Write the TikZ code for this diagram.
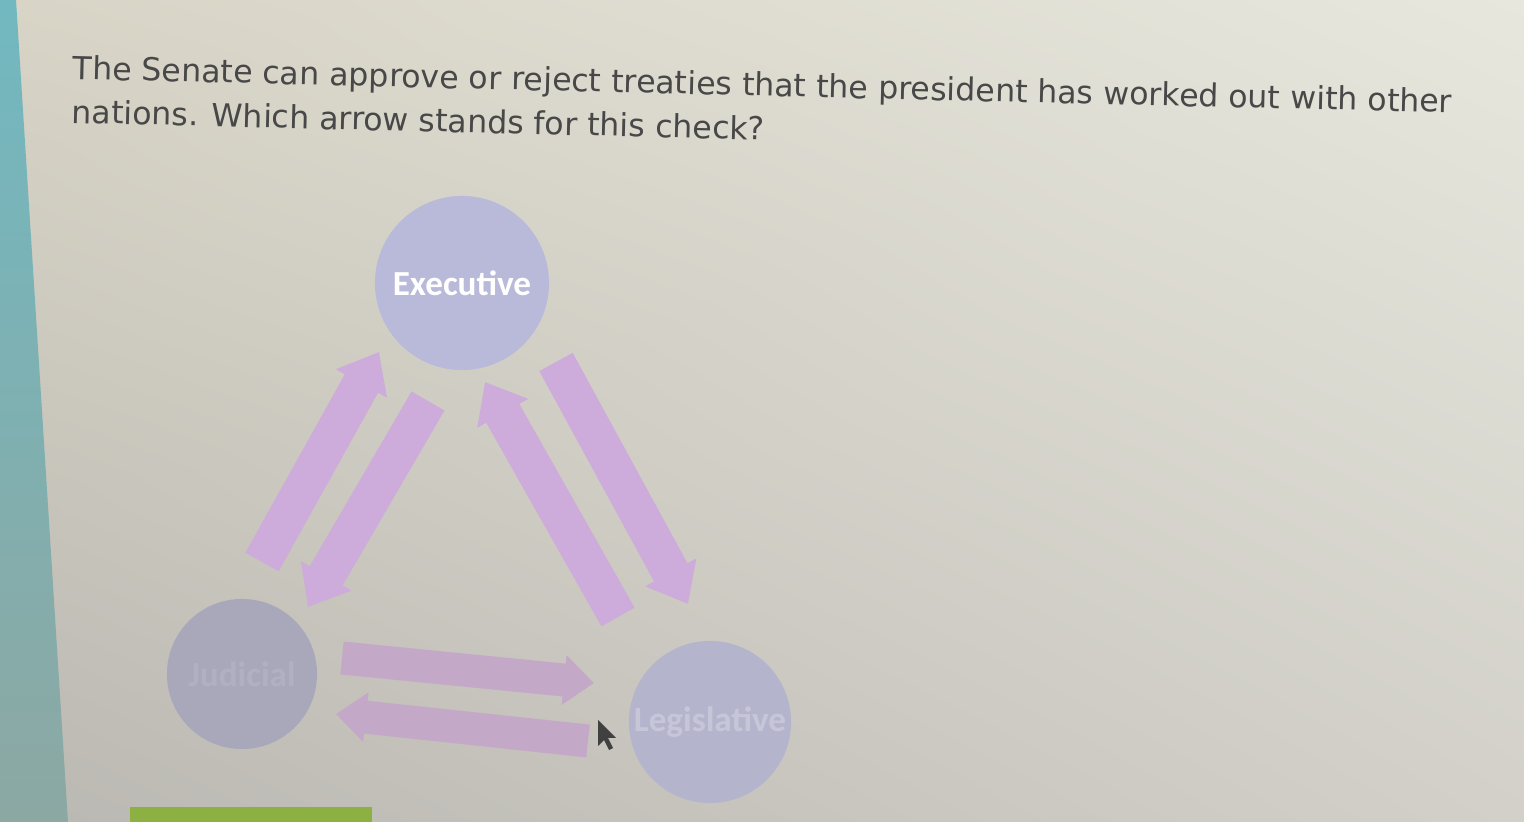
\documentclass[tikz,border=0pt]{standalone}
\usepackage{fontspec}
\setmainfont{DejaVu Sans}
\newfontfamily\branchfont{Carlito}
\usetikzlibrary{arrows.meta,calc,shadings}

\definecolor{qtext}{HTML}{484848}
\definecolor{bgul}{HTML}{D8D4C6}
\definecolor{bgur}{HTML}{E7E7DE}
\definecolor{bgll}{HTML}{BAB8B2}
\definecolor{bglr}{HTML}{D2D0C8}
\definecolor{tealside}{HTML}{72B8C0}
\definecolor{tealbot}{HTML}{8CA8A3}
\definecolor{execfill}{HTML}{B9B9D9}
\definecolor{judfill}{HTML}{A9A7BA}
\definecolor{legfill}{HTML}{B5B4CD}
\definecolor{lilac}{HTML}{CDABDA}
\definecolor{lilacdim}{HTML}{C4A8C8}
\definecolor{barlime}{HTML}{8DB043}

\begin{document}
\begin{tikzpicture}[x=0.01cm,y=-0.01cm,
                    branch/.style={circle,inner sep=0pt,text=white,font=\branchfont\bfseries\fontsize{10pt}{12pt}\selectfont},
                    bigarrow/.style={line width=0.38cm,draw=lilac,-{Triangle[length=0.36cm,width=0.56cm]}},
                    lowarrow/.style={bigarrow,line width=0.33cm,draw=lilacdim,-{Triangle[length=0.3cm,width=0.48cm]}},
                    question/.style={anchor=base west,text=qtext,inner sep=0pt,rotate=-1.4,align=left,
                                     font=\fontsize{9pt}{12.5pt}\selectfont}
]
\useasboundingbox (0,0) rectangle (1524,822);
% screen background
\shade[upper left=bgul,upper right=bgur,lower left=bgll,lower right=bglr] (0,0) rectangle (1524,822);
\shade[top color=tealside,bottom color=tealbot] (0,0) -- (16,0) -- (68,822) -- (0,822) -- cycle;
\fill[barlime] (130,807) -- (372,807) -- (372,822) -- (130,822) -- cycle;
%
\node[question] (q) at (71,123) {The Senate can approve or reject treaties that the president has worked out with other\\
nations. Which arrow stands for this check?};
%
\node[branch,fill=execfill,minimum size=1.74cm] (exec) at (462,283) {Executive};
\node[branch,fill=judfill,minimum size=1.5cm,text opacity=0.1] (jud) at (242,674) {Judicial};
\node[branch,fill=legfill,minimum size=1.62cm,text opacity=0.25] (leg) at (710,722) {Legislative};
%
\coordinate (ja1) at (262,562);
\coordinate (ja2) at (379,352);
\coordinate (ej1) at (428,401);
\coordinate (ej2) at (308,607);
\coordinate (le1) at (618,617);
\coordinate (le2) at (485,382);
\coordinate (el1) at (556,362);
\coordinate (el2) at (688,604);
\coordinate (jl1) at (342,658);
\coordinate (jl2) at (594,683);
\coordinate (lj1) at (588,741);
\coordinate (lj2) at (336,714);
%
\draw[bigarrow] (ja1) -- (ja2);
\draw[bigarrow] (ej1) -- (ej2);
\draw[bigarrow] (le1) -- (le2);
\draw[bigarrow] (el1) -- (el2);
\draw[lowarrow] (jl1) -- (jl2);
\draw[lowarrow] (lj1) -- (lj2);
%
% mouse pointer
\coordinate (ptr) at (598,720);
\fill[black!75] (ptr) -- ++(0,26) -- ++(6,-6) -- ++(5,10) -- ++(4,-2) -- ++(-5,-10) -- ++(8,0) -- cycle;
\end{tikzpicture}
\end{document}
